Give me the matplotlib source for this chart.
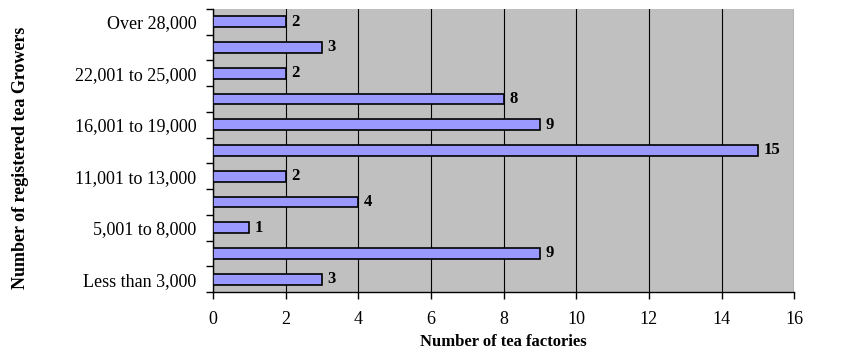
import numpy as np
import matplotlib
matplotlib.use("Agg")
import matplotlib.pyplot as plt

# categories bottom to top
growers = ["Less than 3,000", "3,001 to 5,000", "5,001 to 8,000", "8,001 to 11,000",
           "11,001 to 13,000", "13,001 to 16,000", "16,001 to 19,000", "19,001 to 22,000",
           "22,001 to 25,000", "25,001 to 28,000", "Over 28,000"]
factories = [3, 9, 1, 4, 2, 15, 9, 8, 2, 3, 2]
# only every other label is shown in the original
shown = [True, False] * 5 + [True]

plt.rcParams['font.family'] = ['Liberation Serif', 'DejaVu Serif']

fig = plt.figure(figsize=(8.51, 3.54), dpi=100)
ax = fig.add_axes([0.2503, 0.175, 0.683, 0.8])

y = np.arange(len(growers))
ax.barh(y, factories, height=0.42, color="#9999FF", edgecolor="black", linewidth=1.2, zorder=3)
for yi, v in zip(y, factories):
    ax.text(v + 0.15, yi, str(v), va="center", ha="left", fontsize=12, fontweight="bold", zorder=4)

ax.set_facecolor("#C0C0C0")
ax.set_xlim(0, 16)
ax.set_ylim(-0.5, len(growers) - 0.5)
ax.set_xticks(np.arange(0, 17, 2))
ax.xaxis.grid(True, color="black", linewidth=0.8, zorder=1)
ax.set_axisbelow(True)

ax.set_yticks(y)
ax.set_yticklabels([g if s else "" for g, s in zip(growers, shown)], fontsize=13)
ax.set_yticks(np.arange(-0.5, len(growers), 1), minor=True)
ax.tick_params(axis="y", which="major", length=0, pad=12)
ax.tick_params(axis="y", which="minor", length=5, width=1, direction="out")
ax.tick_params(axis="x", length=5, width=1, direction="out", labelsize=13, pad=9)

for s in ["top", "right"]:
    ax.spines[s].set_visible(False)
ax.spines["left"].set_linewidth(1)
ax.spines["bottom"].set_linewidth(1)

ax.set_xlabel("Number of tea factories", fontsize=12, fontweight="bold")
ax.xaxis.set_label_coords(0.5, -0.148)
ax.set_ylabel("Number of registered tea Growers", fontsize=13, fontweight="bold")
ax.yaxis.set_label_coords(-0.316, 0.474)

fig.savefig("out.png", dpi=100)
